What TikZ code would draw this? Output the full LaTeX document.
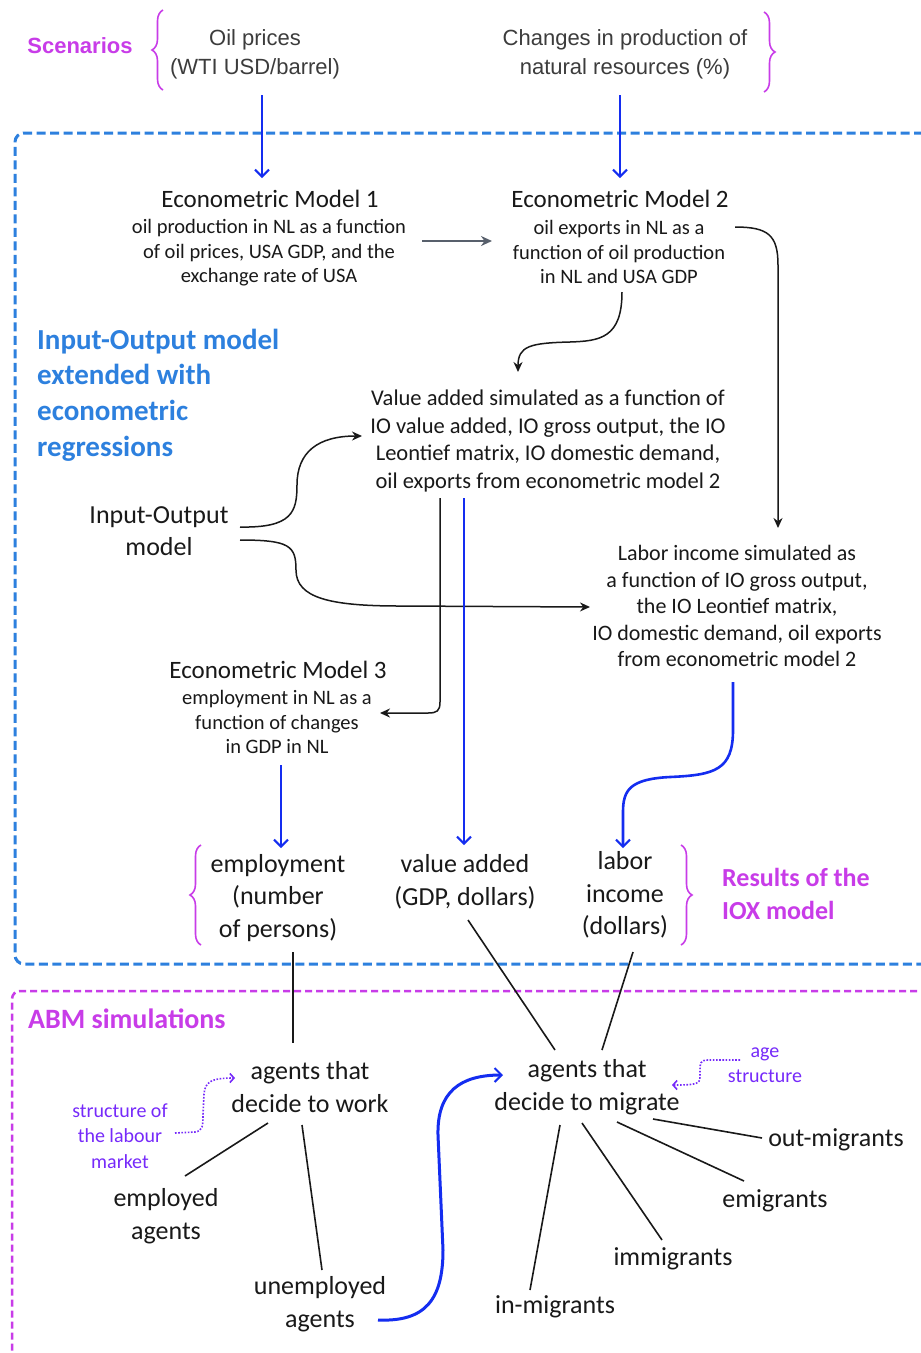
\documentclass[tikz,border=0pt]{standalone}
\usepackage{fontspec}
\setmainfont{Carlito}
\newfontfamily\arialf{Liberation Sans}
\usetikzlibrary{arrows.meta,decorations.pathreplacing}

\definecolor{flowblue}{RGB}{20,45,240}
\definecolor{ioxblue}{RGB}{45,128,222}
\definecolor{abmpink}{RGB}{200,60,232}
\definecolor{noteviolet}{RGB}{118,42,250}
\definecolor{ink}{RGB}{25,25,25}
\definecolor{toptext}{RGB}{60,60,60}
\definecolor{arrowgrey}{RGB}{88,96,108}

\tikzset{
  every node/.style={inner sep=0pt, text=ink, align=center},
  toplabel/.style={font=\arialf\fontsize{22}{29}\selectfont, text=toptext},
  title/.style={font=\fontsize{25}{30}\selectfont},
  small/.style={font=\fontsize{20.5}{24.5}\selectfont},
  mid/.style={font=\fontsize{22.5}{27.7}\selectfont},
  midb/.style={font=\fontsize{22}{26.5}\selectfont},
  big/.style={font=\fontsize{26}{32.5}\selectfont},
  note/.style={font=\fontsize{20}{25.5}\selectfont, text=noteviolet},
  headblue/.style={font=\bfseries\fontsize{29}{35.8}\selectfont, text=ioxblue, align=left},
  headpink/.style={font=\bfseries\fontsize{26}{33}\selectfont, text=abmpink, align=left},
  flow/.style={draw=flowblue, line width=2pt, -{Straight Barb[length=7pt,width=14pt,line width=2pt]}},
  flowthick/.style={flow, line width=3pt},
  link/.style={draw=ink, line width=1.5pt, -{Stealth[length=10pt,width=9pt]}},
  greylink/.style={draw=arrowgrey, line width=2.2pt, -{Stealth[length=11pt,width=10pt]}},
  plain/.style={draw=ink, line width=1.6pt},
  dots/.style={draw=noteviolet, line width=1.6pt, dash pattern=on 1.6pt off 1.6pt,
    -{Straight Barb[length=4pt,width=9pt,line width=1.6pt]}},
  bracket/.style={draw=abmpink, line width=1.6pt, decorate, decoration={brace, amplitude=11pt}},
  ioxbox/.style={draw=ioxblue, line width=3pt, dash pattern=on 9pt off 4.5pt, rounded corners=9pt},
  abmbox/.style={draw=abmpink, line width=2.5pt, dash pattern=on 7pt off 4pt, rounded corners=8pt}
}

\begin{document}
\begin{tikzpicture}[x=1pt,y=-1pt]
\useasboundingbox (0,0) rectangle (921,1353);
\clip (0,0) rectangle (921,1353);
\fill[white] (0,0) rectangle (921,1353);

% frames of the two modelling stages
\draw[ioxbox] (950,133) -- (15,133) -- (15,964) -- (950,964);
\draw[abmbox] (950,991) -- (12,991) -- (12,1370);

% scenarios
\node[toplabel, font=\arialf\bfseries\fontsize{22}{29}\selectfont, text=abmpink] (scen) at (80,46) {Scenarios};
\node[toplabel] (oil) at (255,54) {Oil prices\\(WTI USD/barrel)};
\node[toplabel] (chg) at (625,54) {Changes in production of\\natural resources (\%)};
\draw[bracket] (163,90) -- (163,10);
\draw[bracket] (764,12) -- (764,92);

% IOX model
\node[headblue, anchor=west] (iohead) at (37,395) {Input-Output model\\extended with\\econometric\\regressions};
\node[title] (em1t) at (270,199) {Econometric Model 1};
\node[small] (em1) at (269,253) {oil production in NL as a function\\of oil prices, USA GDP, and the\\exchange rate of USA};
\node[title] (em2t) at (620,199) {Econometric Model 2};
\node[small] (em2) at (619,252) {oil exports in NL as a\\function of oil production\\in NL and USA GDP};
\node[mid] (va) at (548,441) {Value added simulated as a function of\\IO value added, IO gross output, the IO\\Leontief matrix, IO domestic demand,\\oil exports from econometric model 2};
\node[big] (io) at (159,531) {Input-Output\\model};
\node[midb] (labor) at (737,606) {Labor income simulated as\\a function of IO gross output,\\the IO Leontief matrix,\\IO domestic demand, oil exports\\from econometric model 2};
\node[title] (em3t) at (278,670) {Econometric Model 3};
\node[small] (em3) at (277,722) {employment in NL as a\\function of changes\\in GDP in NL};

% results of the IOX model
\node[big] (emp) at (278,898) {employment\\(number\\of persons)};
\node[big] (vadd) at (465,882) {value added\\(GDP, dollars)};
\node[big] (linc) at (625,895) {labor\\income\\(dollars)};
\node[headpink, anchor=west] (res) at (722,894) {Results of the\\IOX model};
\draw[bracket] (201,945) -- (201,845);
\draw[bracket] (681,845) -- (681,945);

% ABM simulations
\node[headpink, font=\bfseries\fontsize{28}{33}\selectfont, anchor=west] (abmhead) at (28,1019) {ABM simulations};
\node[big] (work) at (310,1087) {agents that\\decide to work};
\node[big] (migrate) at (587,1087) {agents that\\decide to migrate};
\node[note] (struct) at (120,1136) {structure of\\the labour\\market};
\node[note] (age) at (765,1065) {age\\structure};
\node[big] (employed) at (166,1216) {employed\\agents};
\node[big] (unemployed) at (320,1304) {unemployed\\agents};
\node[big] (outm) at (836,1140) {out-migrants};
\node[big] (emig) at (775,1201) {emigrants};
\node[big] (immig) at (673,1259) {immigrants};
\node[big] (inmig) at (555,1307) {in-migrants};

% scenario inputs
\draw[flow] ([shift={(7,41)}]oil.center) -- ([shift={(-8,-21)}]em1t.center);
\draw[flow] ([shift={(-5,41)}]chg.center) -- ([shift={(0,-21)}]em2t.center);

% econometric chain
\draw[greylink] ([shift={(153,-12)}]em1.center) -- ([shift={(-127,-11)}]em2.center);
\draw[link] ([shift={(3,40)}]em2.center) .. controls (622,338) and (600,341) .. (570,342)
  .. controls (530,343) and (518,346) .. ([shift={(-30,-69)}]va.center);
\draw[link] ([shift={(116,-25)}]em2.center) .. controls (768,227) and (778,235) .. (778,265)
  -- ([shift={(41,-78)}]labor.center);
\draw[link] ([shift={(81,-4)}]io.center) .. controls (292,528) and (297,512) .. (297,485)
  .. controls (297,452) and (318,436) .. ([shift={(-186,-5)}]va.center);
\draw[link] ([shift={(81,9)}]io.center) .. controls (290,540) and (296,546) .. (296,570)
  .. controls (296,598) and (330,606) .. (400,606) -- ([shift={(-147,1)}]labor.center);
\draw[link] ([shift={(-108,57)}]va.center) -- (440,702) .. controls (440,711) and (437,713) .. (428,713)
  -- ([shift={(103,-9)}]em3.center);

% results
\draw[flow] ([shift={(-84,57)}]va.center) -- ([shift={(-1,-37)}]vadd.center);
\draw[flow] ([shift={(4,43)}]em3.center) -- ([shift={(3,-50)}]emp.center);
\draw[flow, line width=2.6pt] ([shift={(-4,76)}]labor.center) -- (733,730) .. controls (733,770) and (715,775) .. (670,777)
  .. controls (630,779) and (623,790) .. (623,812) -- ([shift={(-2,-47)}]linc.center);

% links into the agent-based model
\draw[plain] ([shift={(15,54)}]emp.center) -- ([shift={(-17,-44)}]work.center);
\draw[plain] ([shift={(3,38)}]vadd.center) -- ([shift={(-32,-37)}]migrate.center);
\draw[plain] ([shift={(8,57)}]linc.center) -- ([shift={(15,-37)}]migrate.center);

\draw[dots] ([shift={(55,-3)}]struct.center) -- (195,1132) .. controls (203,1131) and (203,1125) .. (203,1115)
  -- (204,1094) .. controls (205,1082) and (211,1078) .. ([shift={(-75,-9)}]work.center);
\draw[dots] ([shift={(-25,-5)}]age.center) -- (708,1060) .. controls (700,1060) and (700,1064) .. (700,1070)
  -- (700,1077) .. controls (700,1084) and (696,1085) .. ([shift={(85,-2)}]migrate.center);

\draw[plain] ([shift={(-42,36)}]work.center) -- ([shift={(19,-40)}]employed.center);
\draw[plain] ([shift={(-8,38)}]work.center) -- ([shift={(2,-34)}]unemployed.center);
\draw[flowthick] ([shift={(58,16)}]unemployed.center) .. controls (425,1322) and (443,1300) .. (443,1250)
  -- (438,1135) .. controls (437,1092) and (460,1075) .. ([shift={(-84,-12)}]migrate.center);

\draw[plain] ([shift={(66,32)}]migrate.center) -- ([shift={(-74,-2)}]outm.center);
\draw[plain] ([shift={(30,35)}]migrate.center) -- ([shift={(-31,-20)}]emig.center);
\draw[plain] ([shift={(-5,36)}]migrate.center) -- ([shift={(-11,-19)}]immig.center);
\draw[plain] ([shift={(-27,38)}]migrate.center) -- ([shift={(-25,-17)}]inmig.center);
\end{tikzpicture}
\end{document}
